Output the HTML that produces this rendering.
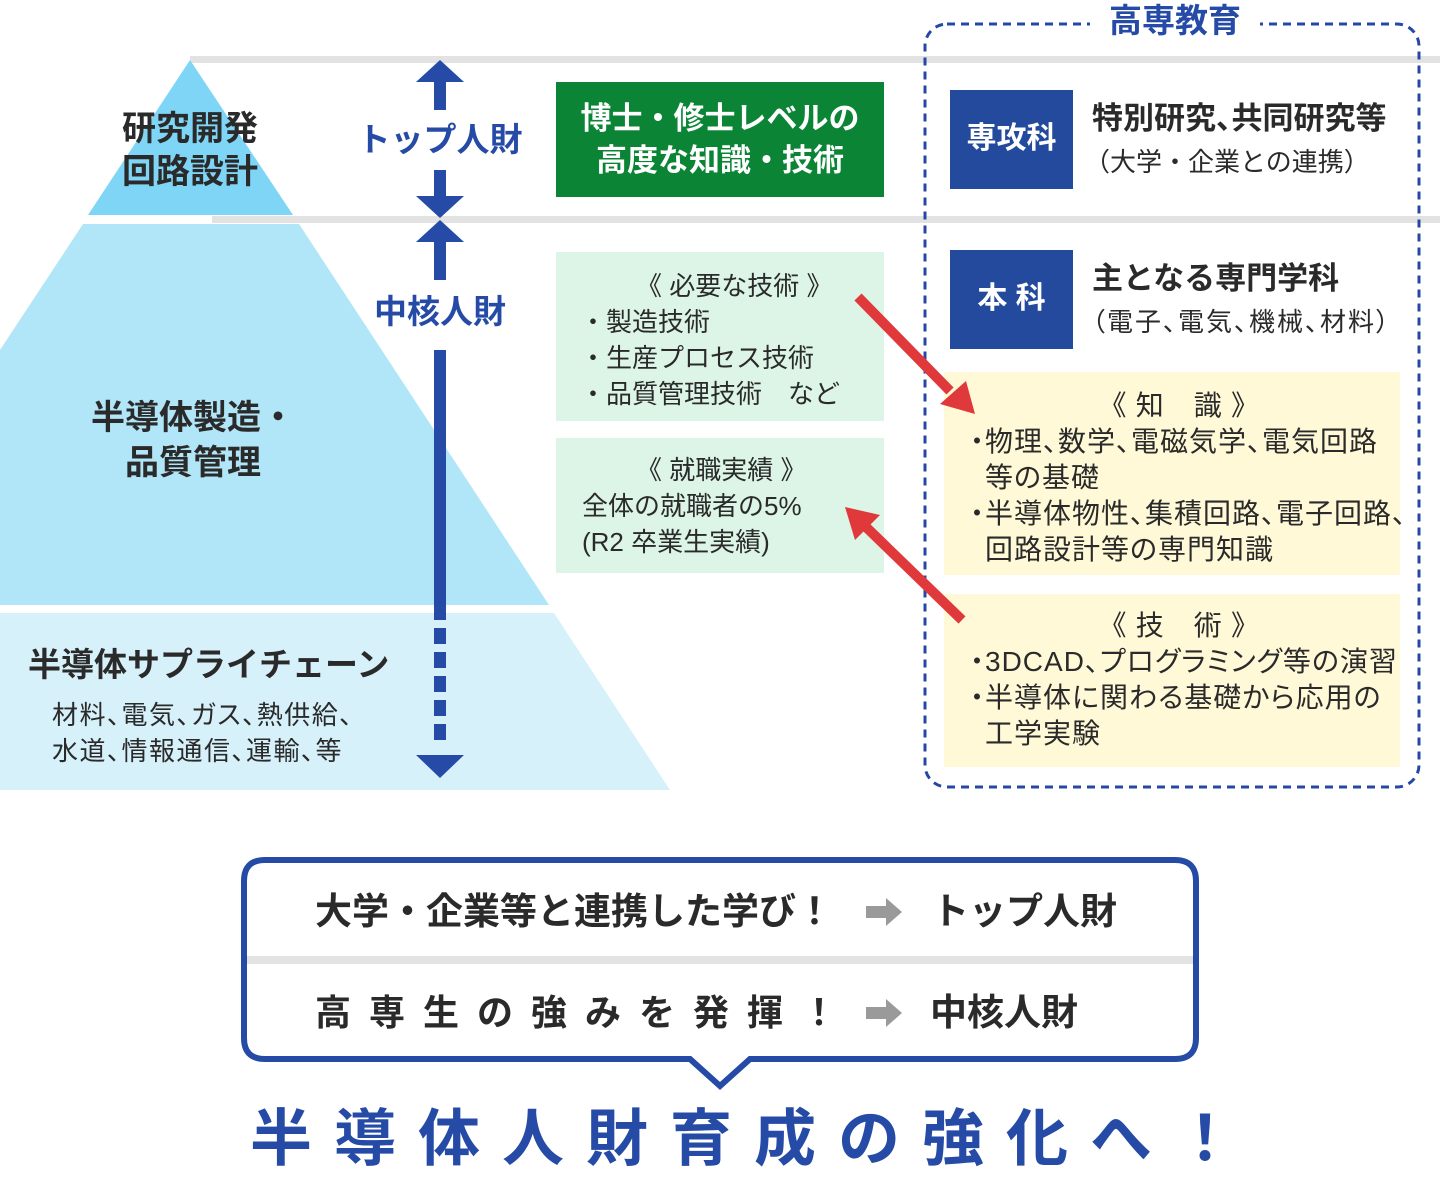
<!DOCTYPE html><html><head><meta charset="utf-8"><style>
body{margin:0;width:1440px;height:1178px;position:relative;background:#fff;font-family:"Liberation Sans","Noto Sans CJK JP",sans-serif;color:#2a2a2a;overflow:hidden}
.a{position:absolute}
.b{font-weight:bold}
.p{font-feature-settings:"palt"}
.bl{display:inline-block;width:22px;margin-left:-22px;font-feature-settings:normal;text-align:center}
</style></head><body>
<svg class="a" style="left:0;top:0" width="1440" height="1178">
<rect x="190" y="56" width="1250" height="7" fill="#e2e2e2"/>
<rect x="212" y="216" width="1228" height="7" fill="#e2e2e2"/>
<polygon points="190,60 293,215 88,215" fill="#7fd5f6"/>
<polygon points="83,224 299,224 549,605 0,605 0,350" fill="#b1e5f8"/>
<polygon points="0,613 554,613 670,790 0,790" fill="#d7f1fb"/>
<g fill="#254ba6">
<polygon points="440,60 464,82 416,82"/><rect x="434" y="82" width="12" height="28"/>
<rect x="434" y="170" width="12" height="26"/><polygon points="416,196 464,196 440,218"/>
<polygon points="440,220 464,242 416,242"/><rect x="434" y="242" width="12" height="38"/>
<rect x="434" y="350" width="12" height="270"/>
<rect x="434" y="628" width="12" height="16"/><rect x="434" y="652" width="12" height="16"/><rect x="434" y="676" width="12" height="16"/><rect x="434" y="700" width="12" height="16"/><rect x="434" y="724" width="12" height="16"/>
<polygon points="416,755 464,755 440,778"/>
</g>
<rect x="556" y="82" width="328" height="115" fill="#0b8535"/>
<rect x="556" y="252" width="328" height="169" fill="#dcf5e6"/>
<rect x="556" y="438" width="328" height="135" fill="#dcf5e6"/>
<rect x="925" y="24" width="494" height="763" rx="22" fill="none" stroke="#2548a6" stroke-width="3" stroke-dasharray="8 6"/>
<rect x="1090" y="5" width="170" height="40" fill="#fff"/>
<rect x="950" y="90" width="123" height="99" fill="#234a9c"/>
<rect x="950" y="250" width="123" height="99" fill="#234a9c"/>
<rect x="944" y="372" width="456" height="203" fill="#fff9d8"/>
<rect x="944" y="594" width="456" height="173" fill="#fff9d8"/>
<g stroke="#e0393b" stroke-width="10">
<line x1="858" y1="297" x2="950" y2="391"/>
<line x1="962" y1="620" x2="866" y2="527"/>
</g>
<polygon points="975,414 940,404 966,381" fill="#e0393b"/>
<polygon points="845,507 880,515 855,540" fill="#e0393b"/>
<path d="M265,860 H1175 Q1196,860 1196,881 V1038 Q1196,1059 1175,1059 H750 L720,1086 L690,1059 H265 Q244,1059 244,1038 V881 Q244,860 265,860 Z" fill="#fff" stroke="#254ba6" stroke-width="6"/>
<rect x="247" y="956" width="946" height="8" fill="#e3e3e3"/>
<g fill="#9a9a9a"><polygon points="866,906 886,906 886,898 902,912 886,926 886,918 866,918"/><polygon points="866,1007 886,1007 886,999 902,1013 886,1027 886,1019 866,1019"/></g>
</svg>
<div class="a b" style="left:95px;top:108px;width:190px;text-align:center;font-size:34px;line-height:43px">研究開発<br>回路設計</div>
<div class="a b" style="left:58px;top:396px;width:270px;text-align:center;font-size:34px;line-height:45px">半導体製造・<br>品質管理</div>
<div class="a b" style="left:28px;top:643px;font-size:33px;line-height:44px;white-space:nowrap">半導体サプライチェーン</div>
<div class="a p" style="left:52px;top:697px;font-size:26px;line-height:36px;white-space:nowrap;letter-spacing:1.5px">材料、電気、ガス、熱供給、<br>水道、情報通信、運輸、等</div>
<div class="a b" style="left:350px;top:118px;width:180px;text-align:center;font-size:33px;color:#254ba6;line-height:44px">トップ人財</div>
<div class="a b" style="left:350px;top:290px;width:180px;text-align:center;font-size:33px;color:#254ba6;line-height:44px">中核人財</div>
<div class="a b" style="left:556px;top:98px;width:328px;text-align:center;font-size:31px;color:#fff;line-height:42px">博士・修士レベルの<br>高度な知識・技術</div>
<div class="a" style="left:580px;top:268px;font-size:26px;line-height:36px;white-space:nowrap"><span style="padding-left:56px">《 必要な技術 》</span><br>・製造技術<br>・生産プロセス技術<br>・品質管理技術　など</div>
<div class="a" style="left:582px;top:452px;font-size:26px;line-height:36px;white-space:nowrap"><span style="padding-left:54px">《 就職実績 》</span><br>全体の就職者の5%<br>(R2 卒業生実績)</div>
<div class="a b" style="left:1090px;top:0px;width:170px;text-align:center;font-size:33px;color:#254ba6;line-height:42px">高専教育</div>
<div class="a b" style="left:950px;top:118px;width:123px;text-align:center;font-size:30px;color:#fff;line-height:42px">専攻科</div>
<div class="a b" style="left:950px;top:278px;width:123px;text-align:center;font-size:30px;color:#fff;line-height:42px">本 科</div>
<div class="a" style="left:1092px;top:98px;font-size:31px;line-height:42px;white-space:nowrap"><b class="p">特別研究、共同研究等</b><br><span style="font-size:26px;margin-left:-8px">（大学・企業との連携）</span></div>
<div class="a" style="left:1092px;top:258px;font-size:31px;line-height:42px;white-space:nowrap"><b>主となる専門学科</b><br><span class="p" style="font-size:26px;letter-spacing:2px">（電子、電気、機械、材料）</span></div>
<div class="a p" style="left:985px;top:388px;font-size:28px;line-height:36px;white-space:nowrap;letter-spacing:1px"><span style="padding-left:127px">《 知　識 》</span><br><span class="bl">・</span>物理、数学、電磁気学、電気回路<br>等の基礎<br><span class="bl">・</span>半導体物性、集積回路、電子回路、<br>回路設計等の専門知識</div>
<div class="a p" style="left:985px;top:608px;font-size:28px;line-height:36px;white-space:nowrap;letter-spacing:1px"><span style="padding-left:127px">《 技　術 》</span><br><span class="bl">・</span>3DCAD、プログラミング等の演習<br><span class="bl">・</span>半導体に関わる基礎から応用の<br>工学実験</div>
<div class="a b" style="left:315px;top:888px;font-size:37px;line-height:48px;white-space:nowrap">大学・企業等と連携した学び！</div>
<div class="a b" style="left:932px;top:888px;font-size:37px;line-height:48px;white-space:nowrap">トップ人財</div>
<div class="a b" style="left:315px;top:989px;font-size:36px;line-height:48px;white-space:nowrap;letter-spacing:18px">高専生の強みを発揮！</div>
<div class="a b" style="left:930px;top:989px;font-size:37px;line-height:48px;white-space:nowrap">中核人財</div>
<div class="a b" style="left:250px;top:1104px;font-size:62px;line-height:72px;white-space:nowrap;color:#254ba6;letter-spacing:22px">半導体人財育成の強化へ！</div>
</body></html>
